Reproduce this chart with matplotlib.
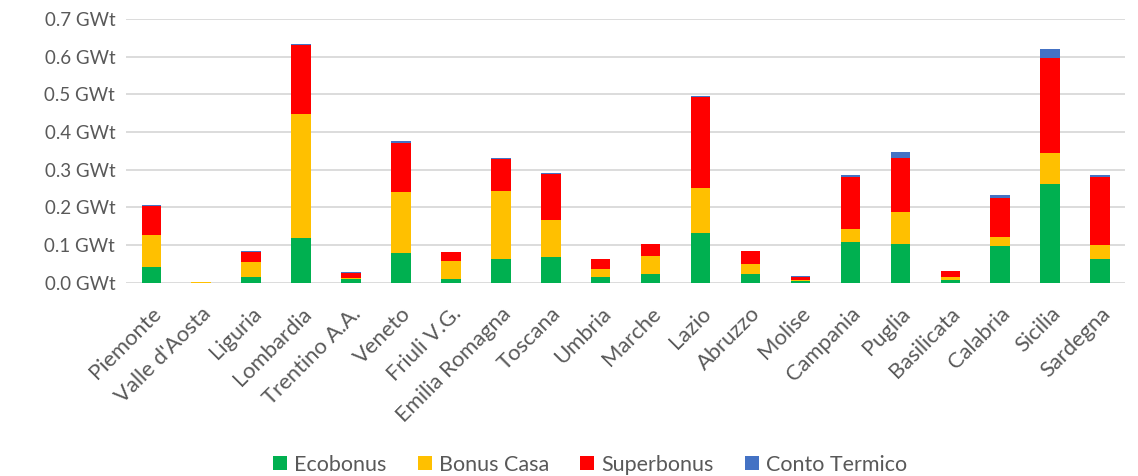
import matplotlib.pyplot as plt
import numpy as np

regioni = ['Piemonte', "Valle d'Aosta", 'Liguria', 'Lombardia', 'Trentino A.A.',
           'Veneto', 'Friuli V.G.', 'Emilia Romagna', 'Toscana', 'Umbria',
           'Marche', 'Lazio', 'Abruzzo', 'Molise', 'Campania', 'Puglia',
           'Basilicata', 'Calabria', 'Sicilia', 'Sardegna']

ecobonus = [0.042, 0.0005, 0.016, 0.119, 0.009, 0.080, 0.011, 0.064, 0.069, 0.016,
            0.024, 0.133, 0.022, 0.0045, 0.109, 0.103, 0.006, 0.098, 0.263, 0.062]
bonus_casa = [0.084, 0.0005, 0.040, 0.328, 0.004, 0.161, 0.047, 0.180, 0.097, 0.021,
              0.047, 0.118, 0.029, 0.0035, 0.034, 0.085, 0.008, 0.023, 0.081, 0.039]
superbonus = [0.078, 0.002, 0.026, 0.185, 0.014, 0.131, 0.023, 0.084, 0.123, 0.025,
              0.031, 0.241, 0.032, 0.008, 0.138, 0.144, 0.016, 0.105, 0.253, 0.180]
conto_termico = [0.002, 0.0, 0.001, 0.002, 0.001, 0.004, 0.001, 0.003, 0.001, 0.001,
                 0.001, 0.003, 0.001, 0.002, 0.004, 0.015, 0.001, 0.006, 0.024, 0.004]

serie = [('Ecobonus', ecobonus, '#00B050'),
         ('Bonus Casa', bonus_casa, '#FFC000'),
         ('Superbonus', superbonus, '#FF0000'),
         ('Conto Termico', conto_termico, '#4472C4')]

plt.rcParams['font.family'] = ['Lato', 'DejaVu Sans']
txt_col = '#595959'

fig = plt.figure(figsize=(11.38, 4.76), dpi=100)
ax = fig.add_axes([0.111, 0.406, 0.8776, 0.554])

x = np.arange(len(regioni))
bottom = np.zeros(len(regioni))
for nome, vals, col in serie:
    ax.bar(x, vals, 0.39, bottom=bottom, color=col, label=nome, zorder=3)
    bottom += np.array(vals)

ax.set_xlim(-0.5, len(regioni) - 0.5)
ax.set_ylim(0, 0.7)
yt = np.arange(0, 0.71, 0.1)
ax.set_yticks(yt)
ax.set_yticklabels([f'{v:.1f} GWt' for v in yt], fontsize=13.5, color=txt_col)
ax.set_xticks(x)
ax.set_xticklabels(regioni, rotation=45, ha='right', rotation_mode='anchor',
                   fontsize=15.8, color=txt_col)
ax.tick_params(axis='y', length=0, pad=8)
ax.tick_params(axis='x', length=0, pad=15)
ax.grid(axis='y', color='#d9d9d9', linewidth=1.3, zorder=0)
for s in ax.spines.values():
    s.set_visible(False)

fig.legend(loc='center', bbox_to_anchor=(0.5185, 0.024), ncol=4, frameon=False,
           fontsize=15.5, handlelength=0.65, handleheight=0.65, handletextpad=0.33,
           columnspacing=1.45, labelcolor=txt_col)

plt.savefig('out.png', dpi=100)
